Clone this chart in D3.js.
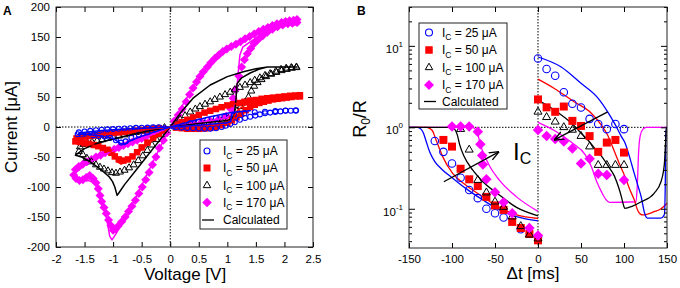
<!DOCTYPE html>
<html>
<head>
<meta charset="utf-8">
<script src="https://cdn.jsdelivr.net/npm/d3@7"></script>
<style>
body { margin: 0; background: #fff; }
svg text { font-family: "Liberation Sans", Arial, Helvetica, sans-serif; }
</style>
</head>
<body>
<svg id="chart" width="680" height="288"></svg>
<script>
const icLabels = ["25", "50", "100", "170"];

// panel A, measured loops, [V, uA] in sweep order
const ivMeas25 = [
  [0.1,-0.5],[0.2,-1],[0.3,-1.5],[0.4,-2],[0.5,-2.5],[0.6,-3],[0.7,-3],[0.8,-2],[0.9,0],[0.97,2],[1.05,5],[1.13,8],[1.22,12],[1.31,15],[1.4,17],[1.49,19],[1.57,21],[1.66,23],[1.75,24],[1.84,25],[1.93,26],[2.02,27],[2.11,27],[2.2,27],
  [2.2,28],[2.02,27.5],[1.84,26.5],[1.66,25.5],[1.48,24.5],[1.3,23],[1.12,21],[0.95,18],[0.8,15],[0.65,12],[0.5,9],[0.35,6],[0.2,3.5],[0.05,1],
  [-0.1,-2],[-0.25,-5],[-0.4,-9],[-0.55,-13],[-0.68,-18],[-0.78,-24],[-0.86,-26],[-0.95,-22],[-1.05,-18],[-1.15,-16],[-1.25,-15],[-1.35,-14],[-1.45,-13],[-1.55,-13],[-1.62,-12],
  [-1.6,-9],[-1.5,-7.5],[-1.4,-6.5],[-1.3,-5.5],[-1.2,-4.5],[-1.1,-4],[-1.0,-3.5],[-0.9,-3],[-0.8,-2.5],[-0.7,-2],[-0.6,-1.5],[-0.5,-1.2],[-0.4,-1],[-0.3,-0.7],[-0.2,-0.5]
];
const ivMeas50 = [
  [0.1,-1],[0.2,-2],[0.3,-3],[0.4,-3],[0.5,-3],[0.6,-2.5],[0.7,-1.5],[0.8,0],[0.9,3],[1.0,7],[1.08,11],[1.16,16],[1.24,22],[1.32,28],[1.4,33],[1.48,37],[1.56,40],[1.64,42],[1.72,44],[1.8,46],[1.88,47],[1.96,48],[2.04,49],[2.12,50],[2.2,51],[2.27,51],
  [2.27,53],[2.19,52.5],[2.1,52],[2.0,51],[1.9,50],[1.8,49],[1.7,48],[1.6,47],[1.5,45],[1.4,44],[1.3,42],[1.2,40],[1.1,38],[1.0,36],[0.9,33],[0.8,30],[0.7,27],[0.6,24],[0.5,20],[0.4,16],[0.3,12],[0.2,8],[0.1,4],
  [-0.1,-5],[-0.2,-11],[-0.3,-18],[-0.4,-26],[-0.5,-34],[-0.58,-42],[-0.66,-49],[-0.74,-54],[-0.82,-56],[-0.9,-54],[-0.97,-49],[-1.03,-43],[-1.1,-38],[-1.18,-35],[-1.26,-32],[-1.34,-30],[-1.42,-28],[-1.5,-27],[-1.58,-25],[-1.66,-24],
  [-1.64,-19],[-1.56,-17],[-1.48,-16],[-1.4,-15],[-1.32,-14],[-1.24,-13],[-1.16,-12],[-1.08,-11],[-1.0,-10],[-0.9,-9],[-0.8,-8],[-0.7,-7],[-0.6,-6],[-0.5,-5],[-0.4,-4],[-0.3,-3],[-0.2,-2]
];
const ivMeas100 = [
  [0.15,1],[0.3,2],[0.45,3],[0.6,5],[0.75,7],[0.9,10],[1.02,14],[1.1,19],[1.17,27],[1.24,34],[1.31,41],[1.37,50],[1.42,60],[1.47,68],[1.53,74],[1.6,79],[1.68,84],[1.77,88],[1.86,91],[1.95,94],[2.04,96],[2.13,98],[2.21,99],
  [2.21,100],[2.12,99],[2.03,98],[1.94,96],[1.85,93],[1.75,89],[1.66,86],[1.57,82],[1.48,78],[1.4,74],[1.31,70],[1.22,66],[1.13,62],[1.05,58],[0.96,54],[0.87,50],[0.78,46],[0.7,42],[0.61,38],[0.52,34],[0.44,30],[0.35,25],[0.26,19],[0.17,13],[0.08,6],
  [-0.08,-6],[-0.16,-13],[-0.24,-21],[-0.32,-30],[-0.4,-39],[-0.48,-48],[-0.56,-56],[-0.64,-63],[-0.72,-68],[-0.8,-72],[-0.88,-75],[-0.95,-77],[-1.02,-76],[-1.09,-73],[-1.16,-70],[-1.23,-67],[-1.3,-63],[-1.38,-58],[-1.46,-52],[-1.53,-46],[-1.6,-41],
  [-1.58,-33],[-1.52,-29],[-1.45,-27],[-1.37,-25],[-1.28,-23],[-1.19,-21],[-1.1,-19],[-1.0,-17],[-0.9,-15],[-0.8,-13],[-0.7,-11],[-0.6,-9],[-0.5,-7],[-0.4,-6],[-0.3,-4],[-0.2,-3],[-0.1,-1]
];
const ivMeas170 = [
  [0.1,1],[0.25,3],[0.4,5],[0.55,8],[0.7,10],[0.85,13],[0.98,18],[1.06,30],[1.1,48],[1.14,62],[1.2,85],[1.25,100],[1.3,112],[1.35,122],[1.41,131],[1.47,139],[1.54,146],[1.62,152],[1.7,158],[1.79,163],[1.88,167],[1.97,170],[2.06,172],[2.14,173],[2.22,174],
  [2.22,179],[2.16,178],[2.09,177],[2.02,176],[1.95,174],[1.87,172],[1.79,169],[1.71,166],[1.63,163],[1.55,159],[1.47,155],[1.39,151],[1.31,147],[1.23,142],[1.15,138],[1.07,134],[0.99,130],[0.92,126],[0.85,120],[0.78,114],[0.71,107],[0.65,100],[0.58,92],[0.52,84],[0.46,75],[0.4,65],[0.34,54],[0.28,42],[0.21,30],[0.14,20],[0.07,10],
  [-0.06,-10],[-0.12,-22],[-0.19,-35],[-0.25,-50],[-0.31,-63],[-0.37,-76],[-0.43,-88],[-0.49,-100],[-0.55,-111],[-0.61,-122],[-0.67,-132],[-0.73,-141],[-0.79,-150],[-0.85,-158],[-0.91,-165],[-0.96,-170],[-1.0,-172],
  [-1.04,-164],[-1.08,-155],[-1.12,-144],[-1.16,-134],[-1.2,-124],[-1.23,-114],[-1.26,-103],[-1.3,-93],[-1.35,-86],[-1.41,-81],[-1.47,-84],[-1.53,-88],[-1.59,-89],[-1.65,-86],[-1.69,-80],
  [-1.66,-71],[-1.6,-66],[-1.53,-62],[-1.46,-58],[-1.38,-54],[-1.3,-50],[-1.22,-47],[-1.14,-43],[-1.06,-40],[-0.98,-37],[-0.9,-34],[-0.82,-31],[-0.74,-28],[-0.66,-25],[-0.58,-22],[-0.5,-19],[-0.42,-16],[-0.34,-13],[-0.26,-10],[-0.18,-7],[-0.1,-4]
];

// panel A, calculated loops
const ivCalc25 = [[0,0],[0.5,3],[1.0,7],[1.06,9],[1.08,22],[1.15,25],[1.4,27],[1.07,24],[0.7,17],[0.35,9],[0,0],[-0.3,-9],[-0.55,-17],[-0.72,-24],[-0.8,-29],[-0.88,-27],[-1.0,-19],[-1.2,-15],[-1.4,-13],[-1.6,-12],[-1.6,-10],[-1.2,-6],[-0.8,-3.5],[-0.4,-1.5],[0,0]];
const ivCalc50 = [[0,0],[0.5,2],[1.0,5],[1.08,8],[1.12,18],[1.18,28],[1.3,36],[1.6,44],[2.0,50],[2.27,52],[1.8,49],[1.4,44],[1.0,36],[0.6,24],[0.3,12],[0,0],[-0.3,-22],[-0.55,-42],[-0.75,-56],[-0.86,-62],[-0.92,-58],[-1.0,-45],[-1.1,-36],[-1.3,-31],[-1.5,-28],[-1.68,-26],[-1.68,-21],[-1.3,-14],[-0.9,-9],[-0.5,-5],[0,0]];
const ivCalc100 = [[0,0],[0.5,6],[1.0,11],[1.08,14],[1.12,20],[1.15,45],[1.17,72],[1.25,82],[1.4,90],[1.55,96],[1.7,100],[2.22,100],[1.7,100],[1.5,97],[1.28,92],[1.0,84],[0.7,70],[0.4,48],[0.2,26],[0,0],[-0.2,-24],[-0.4,-48],[-0.6,-72],[-0.8,-96],[-0.9,-110],[-0.93,-114],[-0.97,-100],[-1.01,-91],[-1.07,-83],[-1.2,-72],[-1.4,-58],[-1.55,-50],[-1.66,-47],[-1.5,-36],[-1.3,-28],[-1.0,-20],[-0.6,-11],[-0.3,-5],[0,0]];
const ivCalc170 = [[0,0],[0.5,7],[1.0,16],[1.1,24],[1.15,45],[1.19,90],[1.22,120],[1.27,133],[1.4,142],[1.6,155],[1.8,164],[2.0,169],[2.25,171],[2.25,173],[2.0,173],[1.7,164],[1.4,150],[1.1,134],[0.8,114],[0.6,94],[0.4,66],[0.2,34],[0,0],[-0.2,-38],[-0.4,-78],[-0.6,-117],[-0.8,-153],[-0.95,-178],[-1.02,-188],[-1.06,-182],[-1.09,-165],[-1.13,-145],[-1.18,-125],[-1.24,-107],[-1.3,-96],[-1.4,-90],[-1.55,-88],[-1.68,-86],[-1.68,-78],[-1.5,-64],[-1.2,-48],[-0.9,-36],[-0.6,-24],[-0.3,-12],[0,0]];

// panel B, measured [ms, R0/R]
const rMeas25 = [[-120,0.68],[-110,0.50],[-100,0.36],[-90,0.24],[-80,0.17],[-70,0.135],[-60,0.10],[-50,0.088],[-40,0.078],[-20,0.056],[0,0.045],[0,7.0],[10,5.2],[20,4.3],[30,2.7],[40,1.95],[50,1.75],[60,1.27],[70,1.1],[80,0.95],[90,1.1],[100,0.95]];
const rMeas50 = [[-110,0.70],[-100,0.58],[-90,0.31],[-80,0.23],[-70,0.19],[-60,0.14],[-50,0.11],[-40,0.097],[-30,0.069],[-20,0.058],[-10,0.049],[0,0.041],[0,2.2],[10,1.76],[20,1.55],[30,1.8],[40,1.2],[50,1.04],[60,0.78],[70,0.50],[80,0.65],[90,0.70],[100,0.49]];
const rMeas100 = [[-90,0.95],[-80,0.53],[-70,0.225],[-60,0.158],[-50,0.122],[-40,0.105],[-30,0.08],[-20,0.061],[-10,0.048],[0,0.043],[0,1.55],[10,1.33],[20,1.17],[30,1.0],[40,0.93],[50,0.78],[60,0.58],[70,0.344],[80,0.344],[90,0.344],[100,0.344]];
const rMeas170 = [[-100,1.02],[-90,1.02],[-80,1.02],[-70,0.88],[-67,0.62],[-65,0.45],[-64,0.35],[-60,0.23],[-50,0.16],[-40,0.12],[-30,0.088],[-10,0.058],[0,0.047],[0,0.93],[10,0.78],[20,0.72],[30,0.67],[40,0.55],[50,0.36],[60,0.41],[70,0.27],[80,0.26],[100,0.225]];

// panel B, calculated, negative and positive delay
const rCalc25L = [[-150,1],[-140,1],[-136,0.95],[-133,0.84],[-130,0.67],[-126,0.50],[-120,0.38],[-111,0.30],[-99,0.237],[-84,0.178],[-64,0.128],[-45,0.097],[-25,0.08],[0,0.071]];
const rCalc50L = [[-150,1],[-130,1],[-126,0.97],[-122,0.88],[-119,0.72],[-116,0.6],[-111,0.44],[-99,0.27],[-84,0.196],[-64,0.14],[-45,0.104],[-25,0.084],[0,0.076]];
const rCalc100L = [[-150,1],[-101,1],[-97,0.95],[-94,0.82],[-91,0.61],[-86,0.44],[-76,0.30],[-64,0.215],[-45,0.148],[-25,0.104],[0,0.082]];
const rCalc170L = [[-150,1],[-76,1],[-72,0.92],[-70,0.84],[-68,0.67],[-64,0.50],[-56,0.33],[-45,0.225],[-25,0.14],[0,0.093]];
const rCalc25R = [[0,7.3],[27,5.5],[50,3.47],[70,2.27],[81,1.55],[89,1.12],[97,0.77],[101,0.65],[106,0.45],[112,0.27],[117,0.18],[120,0.14],[124,0.088],[127,0.077],[143,0.077],[147,0.085],[148,0.2],[148.5,0.6],[149,1.0],[150,1.0]];
const rCalc50R = [[0,3.9],[19,3.0],[42,2.06],[62,1.49],[73.5,1.07],[81,0.8],[89,0.5],[95,0.35],[101,0.25],[107,0.17],[112,0.128],[116,0.095],[119,0.086],[122,0.084],[135,0.092],[143,0.1],[150,0.117]];
const rCalc100R = [[0,2.16],[19,1.63],[39,1.12],[54,0.77],[58,0.70],[66,0.55],[74,0.44],[82,0.33],[89,0.25],[94,0.18],[97,0.14],[99,0.115],[101,0.101],[110,0.108],[120,0.122],[135,0.155],[143,0.215],[147,0.36],[148.5,0.7],[149.5,1.0],[150,1.0]];
const rCalc170R = [[0,1.15],[20,0.9],[40,0.64],[55,0.46],[62,0.33],[68,0.22],[74,0.16],[79,0.13],[83,0.12],[114,0.122],[115.5,0.2],[117,0.5],[119,0.8],[122,0.95],[126,1.0],[150,1.0]];

const arrowLeft = [[-109.5,0.215],[-45.6,0.50]];
const arrowRight = [[81,1.55],[19,0.70]];

const voltTicks = [-2,-1.5,-1,-0.5,0,0.5,1,1.5,2,2.5];
const currTicks = [-200,-150,-100,-50,0,50,100,150,200];
const dtTicks = [-150,-100,-50,0,50,100,150];
const ratioMajor = [0.1,1,10];
const ratioExp = ["-1","0","1"];

const colors = ["#0000ff", "#ff0000", "#000000", "#ff00ff"];
const shapes = ["circle", "square", "triangle", "diamond"];
const fontFam = '"Liberation Sans", Arial, Helvetica, sans-serif';

const svg = d3.select("#chart");

const xA = d3.scaleLinear().domain([-2, 2.5]).range([56, 313]);
const yA = d3.scaleLinear().domain([-200, 200]).range([247, 7]);
const xB = d3.scaleLinear().domain([-150, 150]).range([409, 667]);
const yB = d3.scaleLog().domain([0.033, 30]).range([248, 7]);

function addMarker(sel, k, s) {
  if (shapes[k] == "circle") {
    sel.append("circle").attr("r", s/2 - 0.5).attr("fill", "none").attr("stroke", colors[k]).attr("stroke-width", 1.1)
  } else if (shapes[k] == "square") {
    sel.append("path").attr("d", d3.symbol(d3.symbolSquare, s*s)()).attr("fill", colors[k])
  } else if (shapes[k] == "triangle") {
    sel.append("path").attr("d", d3.symbol(d3.symbolTriangle, 0.433*s*s)()).attr("fill", "none").attr("stroke", colors[k]).attr("stroke-width", 1)
  } else {
    sel.append("path").attr("d", d3.symbol(d3.symbolSquare, s*s*0.5)()).attr("transform", "rotate(45)").attr("fill", colors[k])
  }
}

function drawPoints(g, pts, x, y, k, s) {
  g.append("g").selectAll("g")
    .data(pts)
    .enter()
    .append("g")
    .attr("transform", function(d) { return "translate(" + x(d[0]) + "," + y(d[1]) + ")" })
    .each(function() { addMarker(d3.select(this), k, s) })
}

function drawLine(g, pts, x, y, k, w, curve) {
  g.append("path")
    .datum(pts)
    .attr("fill", "none")
    .attr("stroke", colors[k])
    .attr("stroke-width", w)
    .attr("stroke-linejoin", "round")
    .attr("d", d3.line().curve(curve).x(function(d) { return x(d[0]) }).y(function(d) { return y(d[1]) }))
}

function icText(t, label, sub) {
  t.append("tspan").text("I")
  t.append("tspan").attr("dy", 3.5).attr("font-size", sub).text("C")
  t.append("tspan").attr("dy", -3.5).text(" = " + label + " \u03bcA")
}

function drawLegend(g, x0, y0, w, h, rows, mx, tx, sizes) {
  g.append("rect").attr("x", x0).attr("y", y0).attr("width", w).attr("height", h)
    .attr("fill", "#fff").attr("stroke", "#222").attr("stroke-width", 1)
  for (let k = 0; k < 4; k++) {
    const m = g.append("g").attr("transform", "translate(" + mx + "," + rows[k] + ")")
    addMarker(m, k, sizes[k])
    const t = g.append("text").attr("x", tx).attr("y", rows[k] + 4).attr("font-size", 12)
    icText(t, icLabels[k], 8.5)
  }
  g.append("line").attr("x1", mx - 5).attr("x2", mx + 7).attr("y1", rows[4]).attr("y2", rows[4])
    .attr("stroke", "#000").attr("stroke-width", 1.3)
  g.append("text").attr("x", tx).attr("y", rows[4] + 4).attr("font-size", 12).text("Calculated")
}

// ---------- panel A ----------
const gA = svg.append("g")

gA.append("line").attr("x1", xA(0)).attr("x2", xA(0)).attr("y1", yA(200)).attr("y2", yA(-200))
  .attr("stroke", "#000").attr("stroke-width", 1).attr("stroke-dasharray", "1.5,1.5")
gA.append("line").attr("x1", xA(-2)).attr("x2", xA(2.5)).attr("y1", yA(0)).attr("y2", yA(0))
  .attr("stroke", "#000").attr("stroke-width", 1).attr("stroke-dasharray", "1.5,1.5")

const ivMeas = [ivMeas25, ivMeas50, ivMeas100, ivMeas170]
const ivCalc = [ivCalc25, ivCalc50, ivCalc100, ivCalc170]
const sizeA = [6, 6.5, 7, 9]
;[3, 2, 1, 0].forEach(function(k) { drawPoints(gA, ivMeas[k], xA, yA, k, sizeA[k]) })
;[3, 2, 1, 0].forEach(function(k) { drawLine(gA, ivCalc[k], xA, yA, k, 1.5, d3.curveLinear) })

gA.append("g").attr("transform", "translate(0,247)")
  .call(d3.axisBottom(xA).tickValues(voltTicks).tickSize(-5).tickPadding(8).tickFormat(function(d) { return String(d) }))
  .attr("font-size", 11.5).attr("font-family", fontFam)
gA.append("g").attr("transform", "translate(0,7)")
  .call(d3.axisTop(xA).tickValues(voltTicks).tickSize(-5).tickFormat(""))
gA.append("g").attr("transform", "translate(56,0)")
  .call(d3.axisLeft(yA).tickValues(currTicks).tickSize(-5).tickPadding(6).tickFormat(function(d) { return String(d) }))
  .attr("font-size", 11.5).attr("font-family", fontFam)
gA.append("g").attr("transform", "translate(313,0)")
  .call(d3.axisRight(yA).tickValues(currTicks).tickSize(-5).tickFormat(""))

gA.append("rect").attr("x", 56).attr("y", 7).attr("width", 257).attr("height", 240)
  .attr("fill", "none").attr("stroke", "#222").attr("stroke-width", 1)

drawLegend(gA, 200, 140, 87, 89, [151, 168, 185.5, 202.5, 220], 207, 223, [7, 7, 7.5, 9.5])

gA.append("text").attr("x", 3).attr("y", 15).attr("font-size", 12).attr("font-weight", "bold").text("A")
gA.append("text").attr("transform", "translate(16.5,127) rotate(-90)").attr("text-anchor", "middle")
  .attr("font-size", 17).text("Current [\u03bcA]")
gA.append("text").attr("x", 185).attr("y", 279.5).attr("text-anchor", "middle").attr("font-size", 17).text("Voltage [V]")

// ---------- panel B ----------
const gB = svg.append("g")

gB.append("line").attr("x1", xB(0)).attr("x2", xB(0)).attr("y1", 7).attr("y2", 248)
  .attr("stroke", "#000").attr("stroke-width", 1).attr("stroke-dasharray", "1.5,1.5")
gB.append("line").attr("x1", 409).attr("x2", 667).attr("y1", yB(1)).attr("y2", yB(1))
  .attr("stroke", "#000").attr("stroke-width", 1).attr("stroke-dasharray", "1.5,1.5")

const rCalcL = [rCalc25L, rCalc50L, rCalc100L, rCalc170L]
const rCalcR = [rCalc25R, rCalc50R, rCalc100R, rCalc170R]
const rMeas = [rMeas25, rMeas50, rMeas100, rMeas170]
;[3, 1, 0, 2].forEach(function(k) {
  drawLine(gB, rCalcL[k], xB, yB, k, 1.3, d3.curveMonotoneX)
  drawLine(gB, rCalcR[k], xB, yB, k, 1.3, d3.curveMonotoneX)
})
const sizeB = [8.5, 8, 8, 10.5]
;[0, 1, 2, 3].forEach(function(k) { drawPoints(gB, rMeas[k], xB, yB, k, sizeB[k]) })

const defs = svg.append("defs")
defs.append("marker").attr("id", "arrowhead").attr("viewBox", "0 0 10 10").attr("refX", 9.5).attr("refY", 5)
  .attr("markerUnits", "userSpaceOnUse").attr("markerWidth", 10).attr("markerHeight", 10).attr("orient", "auto")
  .append("path").attr("d", "M0,1L10,5L0,9").attr("fill", "none").attr("stroke", "#000").attr("stroke-width", 1.3)
;[arrowLeft, arrowRight].forEach(function(a) {
  gB.append("line").attr("x1", xB(a[0][0])).attr("y1", yB(a[0][1])).attr("x2", xB(a[1][0])).attr("y2", yB(a[1][1]))
    .attr("stroke", "#000").attr("stroke-width", 1.3).attr("marker-end", "url(#arrowhead)")
})
const icBig = gB.append("text").attr("x", 513).attr("y", 160).attr("font-size", 24)
icBig.append("tspan").text("I")
icBig.append("tspan").attr("dy", 3.5).attr("font-size", 16).text("C")

const minorB = yB.ticks().filter(function(v) { return Math.abs(Math.log10(v) - Math.round(Math.log10(v))) > 1e-6 })
gB.append("g").attr("transform", "translate(0,248)")
  .call(d3.axisBottom(xB).tickValues(dtTicks).tickSize(-5).tickPadding(7).tickFormat(function(d) { return String(d) }))
  .attr("font-size", 11.5).attr("font-family", fontFam)
gB.append("g").attr("transform", "translate(0,7)")
  .call(d3.axisTop(xB).tickValues(dtTicks).tickSize(-5).tickFormat(""))
gB.append("g").attr("transform", "translate(409,0)").call(d3.axisLeft(yB).tickValues(ratioMajor).tickSize(-6).tickFormat(""))
gB.append("g").attr("transform", "translate(409,0)").call(d3.axisLeft(yB).tickValues(minorB).tickSize(-3).tickFormat(""))
gB.append("g").attr("transform", "translate(667,0)").call(d3.axisRight(yB).tickValues(ratioMajor).tickSize(-6).tickFormat(""))
gB.append("g").attr("transform", "translate(667,0)").call(d3.axisRight(yB).tickValues(minorB).tickSize(-3).tickFormat(""))

ratioMajor.forEach(function(v, i) {
  const t = gB.append("text").attr("x", 403).attr("y", yB(v) + 7).attr("text-anchor", "end").attr("font-size", 11.5)
  t.append("tspan").text("10")
  t.append("tspan").attr("dy", -6).attr("font-size", 8).text(ratioExp[i])
})

gB.append("rect").attr("x", 409).attr("y", 7).attr("width", 258).attr("height", 241)
  .attr("fill", "none").attr("stroke", "#222").attr("stroke-width", 1)

drawLegend(gB, 419, 23, 88, 86, [32.5, 50, 67.5, 85, 101.5], 429, 442, [8, 7.5, 7.5, 10])

gB.append("text").attr("x", 357).attr("y", 15).attr("font-size", 12).attr("font-weight", "bold").text("B")
const rLab = gB.append("text").attr("transform", "translate(366,119) rotate(-90)").attr("text-anchor", "middle").attr("font-size", 18)
rLab.append("tspan").text("R")
rLab.append("tspan").attr("dy", 4).attr("font-size", 12).text("0")
rLab.append("tspan").attr("dy", -4).text("/R")
gB.append("text").attr("x", 533).attr("y", 279).attr("text-anchor", "middle").attr("font-size", 17).text("\u0394t [ms]")

svg.selectAll(".domain").remove()
</script>
</body>
</html>
